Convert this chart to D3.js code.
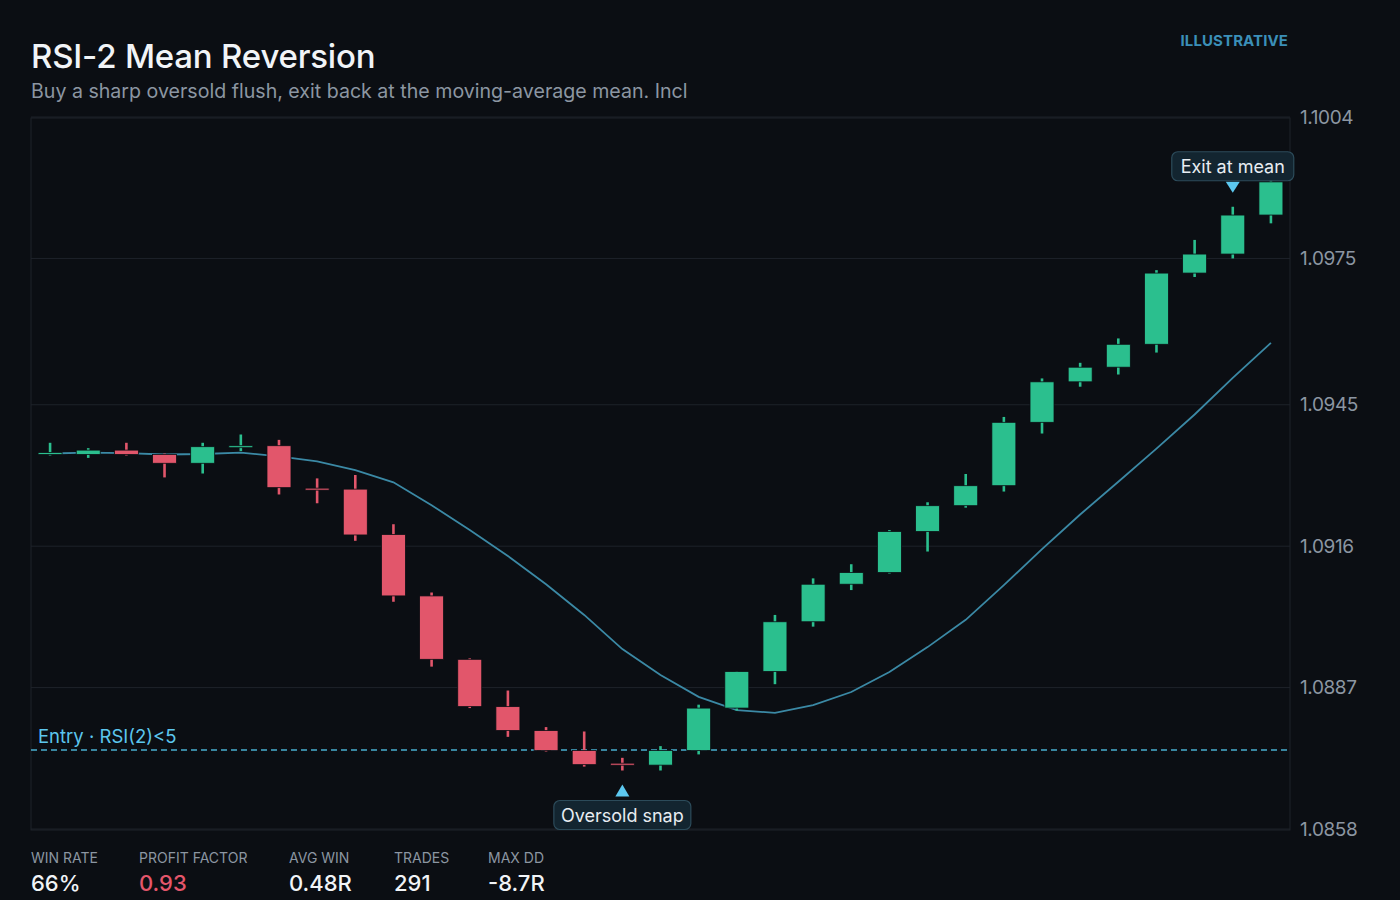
<!DOCTYPE html>
<html>
<head>
<meta charset="utf-8">
<script src="https://cdn.jsdelivr.net/npm/d3@7"></script>
<style>
  html, body { margin: 0; padding: 0; background: #0b0e13; }
  svg { display: block; font-family: Inter, "Noto Sans", sans-serif; }
</style>
</head>
<body>
<svg id="chart" width="1400" height="900"></svg>
<script>
// candle data (EUR/USD style prices)
const opens  = [1.09350, 1.09348, 1.09357, 1.09348, 1.09330, 1.09365, 1.09366, 1.09279, 1.09277, 1.09184,
                1.09058, 1.08928, 1.08831, 1.08782, 1.08741, 1.08715, 1.08711, 1.08741, 1.08828, 1.08903,
                1.09005, 1.09082, 1.09106, 1.09190, 1.09243, 1.09284, 1.09414, 1.09497, 1.09527, 1.09574,
                1.09720, 1.09759, 1.09839];
const highs  = [1.09372, 1.09361, 1.09372, 1.09350, 1.09372, 1.09389, 1.09378, 1.09299, 1.09306, 1.09205,
                1.09065, 1.08930, 1.08864, 1.08789, 1.08780, 1.08726, 1.08750, 1.08835, 1.08904, 1.09019,
                1.09094, 1.09123, 1.09193, 1.09250, 1.09308, 1.09425, 1.09504, 1.09536, 1.09586, 1.09726,
                1.09788, 1.09856, 1.09919];
const lows   = [1.09346, 1.09341, 1.09346, 1.09301, 1.09309, 1.09355, 1.09266, 1.09248, 1.09171, 1.09046,
                1.08913, 1.08828, 1.08769, 1.08739, 1.08708, 1.08700, 1.08700, 1.08733, 1.08823, 1.08877,
                1.08995, 1.09070, 1.09104, 1.09149, 1.09239, 1.09272, 1.09391, 1.09487, 1.09512, 1.09557,
                1.09712, 1.09750, 1.09822];
const closes = [1.09352, 1.09357, 1.09348, 1.09330, 1.09364, 1.09366, 1.09280, 1.09278, 1.09183, 1.09058,
                1.08928, 1.08831, 1.08782, 1.08741, 1.08712, 1.08713, 1.08741, 1.08828, 1.08903, 1.09005,
                1.09082, 1.09106, 1.09190, 1.09243, 1.09284, 1.09414, 1.09497, 1.09527, 1.09574, 1.09720,
                1.09759, 1.09839, 1.09907];
// moving average
const mean   = [1.09350, 1.09352, 1.09351, 1.09348, 1.09349, 1.09352, 1.09344, 1.09334, 1.09316, 1.09291,
                1.09244, 1.09193, 1.09140, 1.09082, 1.09019, 1.08949, 1.08896, 1.08851, 1.08824, 1.08818,
                1.08834, 1.08861, 1.08902, 1.08953, 1.09009, 1.09080, 1.09154, 1.09225, 1.09292, 1.09360,
                1.09430, 1.09505, 1.09577];

const yTicks = [1.0858, 1.0887, 1.0916, 1.0945, 1.0975, 1.1004];
const yDomain = [1.08578, 1.10038];
const entryLevel = 1.08742;
const entryIndex = 15;
const exitIndex = 31;

const statLabels = ["WIN RATE", "PROFIT FACTOR", "AVG WIN", "TRADES", "MAX DD"];
const statValues = ["66%", "0.93", "0.48R", "291", "-8.7R"];

const up = "#2bbf8e", down = "#e2566b";

const margin = {top: 118, right: 110, bottom: 70, left: 31},
    width = 1400 - margin.left - margin.right,
    height = 900 - margin.top - margin.bottom;

const svg = d3.select("#chart");

// title block
svg.append("text").attr("x", 31).attr("y", 68)
    .attr("fill", "#f1f4f7").attr("font-size", 33).attr("font-weight", 500)
    .attr("letter-spacing", "-0.2")
    .text("RSI-2 Mean Reversion");
svg.append("text").attr("x", 31).attr("y", 98)
    .attr("fill", "#8c96a2").attr("font-size", 19.6)
    .text("Buy a sharp oversold flush, exit back at the moving-average mean. Incl");
svg.append("text").attr("x", 1288).attr("y", 46)
    .attr("text-anchor", "end")
    .attr("fill", "#3b8fb8").attr("font-size", 15).attr("font-weight", 700)
    .attr("letter-spacing", "0.1")
    .text("ILLUSTRATIVE");

const g = svg.append("g")
    .attr("transform", "translate(" + margin.left + "," + margin.top + ")");

const idx = d3.range(opens.length);
const x = d3.scalePoint().domain(idx).range([0, width]).padding(0.5);
const y = d3.scaleLinear().domain(yDomain).range([height, 0]);

// grid lines
g.append("g").selectAll("line")
    .data(yTicks)
    .join("line")
    .attr("x1", 0).attr("x2", width)
    .attr("y1", d => y(d)).attr("y2", d => y(d))
    .attr("stroke", "#1e232a").attr("stroke-width", 1);

// frame
g.append("rect")
    .attr("x", 0).attr("y", 0).attr("width", width).attr("height", height)
    .attr("fill", "none").attr("stroke", "#1e232a");

// right axis
const yAxis = g.append("g")
    .attr("transform", "translate(" + width + ",0)")
    .call(d3.axisRight(y).tickValues(yTicks).tickFormat(d3.format(".4f")).tickSize(0).tickPadding(10));
yAxis.select(".domain").remove();
yAxis.selectAll("text")
    .attr("fill", "#8c96a2").attr("font-size", 19)
    .attr("font-family", "Inter, sans-serif")
    .attr("letter-spacing", "-0.4");

// entry level
g.append("line")
    .attr("x1", 0).attr("x2", width)
    .attr("y1", y(entryLevel)).attr("y2", y(entryLevel))
    .attr("stroke", "#4aaed0").attr("stroke-width", 1.3)
    .attr("stroke-dasharray", "6,4");
g.append("text")
    .attr("x", 7).attr("y", y(entryLevel) - 7)
    .attr("fill", "#5cc6ee").attr("font-size", 18.5)
    .text("Entry · RSI(2)<5");

// moving average
const meanLine = d3.line()
    .x(function(d, i) { return x(i); })
    .y(function(d) { return y(d); });
g.append("path")
    .datum(mean)
    .attr("fill", "none")
    .attr("stroke", "#3b89a5")
    .attr("stroke-width", 1.8)
    .attr("d", meanLine);

// candles
const bodyW = 24;
const candle = g.append("g").selectAll("g")
    .data(idx)
    .join("g");

candle.append("line")
    .attr("x1", i => x(i)).attr("x2", i => x(i))
    .attr("y1", i => y(highs[i])).attr("y2", i => y(lows[i]))
    .attr("stroke", i => closes[i] >= opens[i] ? up : down)
    .attr("stroke-width", 2.6);

candle.append("rect")
    .attr("x", i => x(i) - bodyW / 2)
    .attr("width", bodyW)
    .attr("y", i => Math.min(y(opens[i]), y(closes[i])))
    .attr("height", i => Math.max(2, Math.abs(y(opens[i]) - y(closes[i]))))
    .attr("fill", i => closes[i] >= opens[i] ? up : down)
    .attr("stroke", "#0b0e13").attr("stroke-width", 0.8);

// callouts
function callout(cx, boxY, label, boxW) {
    const c = g.append("g");
    c.append("rect")
        .attr("x", cx - boxW / 2).attr("y", boxY)
        .attr("width", boxW).attr("height", 29)
        .attr("rx", 6)
        .attr("fill", "#132530").attr("stroke", "#2c4b5a").attr("stroke-width", 1.2);
    c.append("text")
        .attr("x", cx).attr("y", boxY + 21)
        .attr("text-anchor", "middle")
        .attr("fill", "#e8edf2").attr("font-size", 18)
        .text(label);
}

// exit marker
const exX = x(exitIndex), exTip = y(highs[exitIndex]) - 14;
g.append("path")
    .attr("d", "M" + (exX - 7) + "," + (exTip - 11) + "L" + (exX + 7) + "," + (exTip - 11) + "L" + exX + "," + exTip + "Z")
    .attr("fill", "#5cc8f0");
callout(exX, exTip - 41, "Exit at mean", 122);

// entry marker
const enX = x(entryIndex), enTip = y(lows[entryIndex]) + 14;
g.append("path")
    .attr("d", "M" + (enX - 7) + "," + (enTip + 12) + "L" + (enX + 7) + "," + (enTip + 12) + "L" + enX + "," + enTip + "Z")
    .attr("fill", "#5cc8f0");
callout(enX, enTip + 16, "Oversold snap", 137);

// stats row
const statX = [31, 139, 289, 394, 488];
const stats = svg.append("g").selectAll("g")
    .data(statLabels)
    .join("g")
    .attr("transform", (d, i) => "translate(" + statX[i] + ",0)");
stats.append("text")
    .attr("y", 863)
    .attr("fill", "#8c96a2").attr("font-size", 14)
    .text(d => d);
stats.append("text")
    .attr("y", 891)
    .attr("fill", (d, i) => i === 1 ? "#e5566b" : "#f1f4f7")
    .attr("font-size", 22).attr("font-weight", 500)
    .text((d, i) => statValues[i]);
</script>
</body>
</html>
